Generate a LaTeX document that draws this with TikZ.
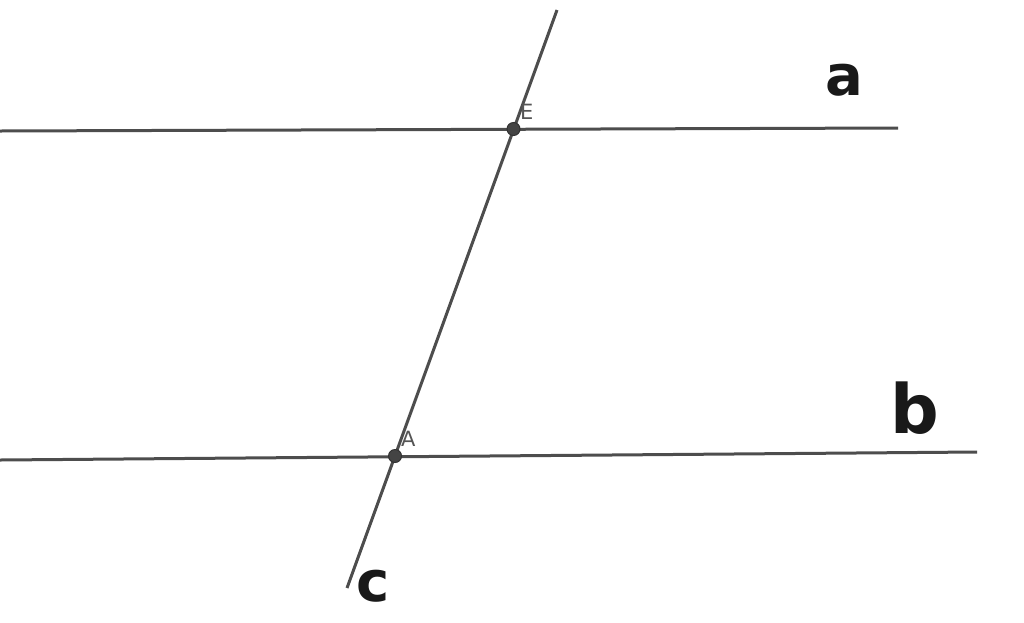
\documentclass[tikz,border=0pt]{standalone}
\usepackage{fontspec}
\setmainfont{DejaVu Sans}
\newfontfamily\hand{DejaVu Sans}
\definecolor{lin}{HTML}{4D4D4D}
\definecolor{pt}{HTML}{444444}
\definecolor{lab}{HTML}{555555}
\begin{document}
\begin{tikzpicture}[x=1pt,y=-1pt,
  ln/.style={draw=lin,line width=3pt},
  ptx/.style={circle,fill=pt,draw=black!80,line width=1pt,inner sep=0pt,minimum size=13pt},
  ptlab/.style={text=lab,font=\fontsize{21}{21}\selectfont,inner sep=0pt,anchor=base west},
  handlab/.style={text=black!90,font=\hand\bfseries\fontsize{56}{56}\selectfont,inner sep=0pt}]
\useasboundingbox (0,0) rectangle (1024,622);
\fill[white] (0,0) rectangle (1024,622);
% line ends
\coordinate (a1) at (0,131);
\coordinate (a2) at (898,128);
\coordinate (b1) at (0,460);
\coordinate (b2) at (977,452);
\coordinate (c1) at (557,10);
\coordinate (c2) at (347,588);
\draw[ln] (a1) -- (a2);
\draw[ln] (b1) -- (b2);
\draw[ln] (c1) -- (c2);
% points
\node[ptx] (E) at (513.5,129) {};
\node[ptx] (A) at (395,456) {};
\node[ptlab] (Elab) at (520,119) {E};
\node[ptlab] (Alab) at (401,446) {A};
% handwritten labels
\node[handlab] (la) at (844,80) {a};
\node[handlab,font=\hand\bfseries\fontsize{68}{68}\selectfont] (lb) at (915,408) {b};
\node[handlab] (lc) at (373,586) {c};
\end{tikzpicture}
\end{document}
